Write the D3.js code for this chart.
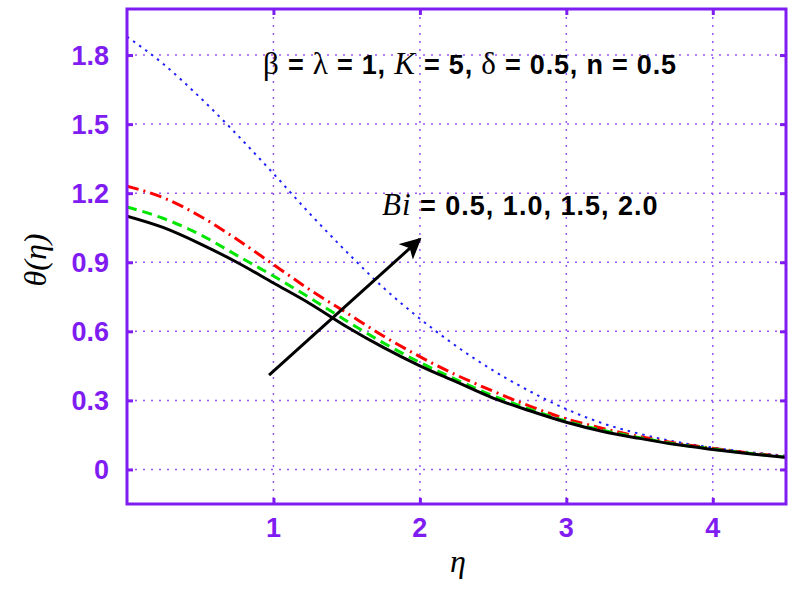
<!DOCTYPE html>
<html>
<head>
<meta charset="utf-8">
<script src="https://cdn.jsdelivr.net/npm/d3@7"></script>
<style>
  body { margin: 0; background: #fff; }
  svg { display: block; }
</style>
</head>
<body>
<svg id="chart" width="800" height="589"></svg>
<script>
let svg = d3.select("#chart");

// eta grid shared by all curves
let eta = [0, 0.25, 0.5, 0.75, 1.0, 1.25, 1.5, 1.75, 2.0, 2.25, 2.5, 2.75, 3.0, 3.25, 3.5, 3.75, 4.0, 4.25, 4.5];

let theta_black = [1.10, 1.05, 0.98, 0.90, 0.81, 0.72, 0.62, 0.53, 0.45, 0.38, 0.31, 0.255, 0.205, 0.165, 0.135, 0.108, 0.087, 0.068, 0.052];
let theta_green = [1.14, 1.09, 1.02, 0.93, 0.84, 0.745, 0.645, 0.55, 0.465, 0.39, 0.32, 0.262, 0.21, 0.17, 0.138, 0.11, 0.089, 0.07, 0.053];
let theta_red = [1.23, 1.18, 1.10, 1.00, 0.89, 0.78, 0.68, 0.58, 0.49, 0.41, 0.34, 0.275, 0.22, 0.178, 0.143, 0.114, 0.092, 0.072, 0.055];
let theta_blue = [1.88, 1.76, 1.615, 1.455, 1.285, 1.11, 0.945, 0.79, 0.655, 0.535, 0.43, 0.34, 0.262, 0.20, 0.155, 0.12, 0.095, 0.075, 0.06];

let x_ticks = [1, 2, 3, 4];
let y_ticks = [0, 0.3, 0.6, 0.9, 1.2, 1.5, 1.8];
let y_tick_labels = ["0", "0.3", "0.6", "0.9", "1.2", "1.5", "1.8"];

// arrow start/end in data units
let arrow_pts = [[0.97, 0.41], [2.0, 1.0]];

let purple = "#7f1cf2";
let plot_left = 127, plot_right = 786, plot_top = 9, plot_bottom = 504;

let x_scale = d3.scaleLinear().domain([0, 4.5]).range([plot_left, plot_right]);
let y_scale = d3.scaleLinear().domain([-0.15, 2.0]).range([plot_bottom, plot_top]);

let defs = svg.append("defs");
defs.append("clipPath")
  .attr("id", "plot-clip")
  .append("rect")
    .attr("x", plot_left).attr("y", plot_top)
    .attr("width", plot_right - plot_left).attr("height", plot_bottom - plot_top);

defs.append("marker")
  .attr("id", "arrow-head")
  .attr("viewBox", "0 0 10 10")
  .attr("refX", 9).attr("refY", 5)
  .attr("markerWidth", 7).attr("markerHeight", 7)
  .attr("markerUnits", "strokeWidth")
  .attr("orient", "auto")
  .append("path")
    .attr("d", "M0,0 L10,5 L0,10 L2.5,5 Z")
    .attr("fill", "black");

// dotted grid
let grid = svg.append("g").attr("class", "grid");
grid.selectAll("line.vgrid")
  .data(x_ticks)
  .enter().append("line")
    .attr("class", "vgrid")
    .attr("x1", (d) => x_scale(d)).attr("x2", (d) => x_scale(d))
    .attr("y1", plot_top).attr("y2", plot_bottom);
grid.selectAll("line.hgrid")
  .data(y_ticks)
  .enter().append("line")
    .attr("class", "hgrid")
    .attr("x1", plot_left).attr("x2", plot_right)
    .attr("y1", (d) => y_scale(d)).attr("y2", (d) => y_scale(d));
grid.selectAll("line")
  .attr("stroke", "#9b55f0")
  .attr("stroke-width", 1.5)
  .attr("stroke-dasharray", "2,6");

// curves
let curve_specs = [
  { values: theta_blue, color: "#1f1fff", width: 2, dash: "2.5,5" },
  { values: theta_red, color: "#ff0000", width: 3, dash: "12,5,2,5" },
  { values: theta_green, color: "#00e600", width: 3, dash: "10,6" },
  { values: theta_black, color: "#000000", width: 3, dash: null },
];

let line = d3.line()
  .x((d) => x_scale(d[0]))
  .y((d) => y_scale(d[1]))
  .curve(d3.curveMonotoneX);

let curves = svg.append("g").attr("clip-path", "url(#plot-clip)");
curve_specs.forEach((s) => {
  curves.append("path")
    .datum(eta.map((e, i) => [e, s.values[i]]))
    .attr("fill", "none")
    .attr("stroke", s.color)
    .attr("stroke-width", s.width)
    .attr("stroke-dasharray", s.dash)
    .attr("d", line);
});

// arrow
svg.append("line")
  .attr("x1", x_scale(arrow_pts[0][0])).attr("y1", y_scale(arrow_pts[0][1]))
  .attr("x2", x_scale(arrow_pts[1][0])).attr("y2", y_scale(arrow_pts[1][1]))
  .attr("stroke", "black")
  .attr("stroke-width", 3)
  .attr("marker-end", "url(#arrow-head)");

// axes with inward ticks on all sides
let tick_len = 6;
let axis_g = svg.append("g").attr("class", "axes");
let axis_pos = [
  [d3.axisBottom(x_scale), 0, plot_bottom, x_ticks],
  [d3.axisTop(x_scale), 0, plot_top, x_ticks],
  [d3.axisLeft(y_scale), plot_left, 0, y_ticks],
  [d3.axisRight(y_scale), plot_right, 0, y_ticks],
];
axis_pos.forEach(([ax, tx, ty, vals]) => {
  axis_g.append("g")
    .attr("transform", "translate(" + tx + "," + ty + ")")
    .call(ax.tickValues(vals).tickSize(-tick_len).tickFormat("").tickSizeOuter(0))
    .call((g) => g.select(".domain").remove())
    .selectAll("line")
      .attr("stroke", purple)
      .attr("stroke-width", 3);
});

axis_g.append("rect")
  .attr("x", plot_left).attr("y", plot_top)
  .attr("width", plot_right - plot_left).attr("height", plot_bottom - plot_top)
  .attr("fill", "none")
  .attr("stroke", purple)
  .attr("stroke-width", 3);

// tick labels
let labels = svg.append("g")
  .attr("font-family", "Liberation Sans, Arial, sans-serif")
  .attr("font-weight", "bold")
  .attr("font-size", 27)
  .attr("fill", purple);
labels.selectAll("text.xlab")
  .data(x_ticks)
  .enter().append("text")
    .attr("class", "xlab")
    .attr("x", (d) => x_scale(d))
    .attr("y", 537)
    .attr("text-anchor", "middle")
    .text((d) => d);
labels.selectAll("text.ylab")
  .data(y_ticks)
  .enter().append("text")
    .attr("class", "ylab")
    .attr("x", 109)
    .attr("y", (d) => y_scale(d) + 9.5)
    .attr("text-anchor", "end")
    .text((d, i) => y_tick_labels[i]);

// axis titles
svg.append("text")
  .attr("x", 458).attr("y", 572)
  .attr("text-anchor", "middle")
  .attr("font-family", "Liberation Serif, serif")
  .attr("font-style", "italic")
  .attr("font-size", 32)
  .text("η");

svg.append("text")
  .attr("transform", "translate(46,260) rotate(-90)")
  .attr("text-anchor", "middle")
  .attr("font-family", "Liberation Serif, serif")
  .attr("font-style", "italic")
  .attr("font-size", 32)
  .text("θ(η)");

// annotations
let ann1 = svg.append("text")
  .attr("x", 263).attr("y", 74)
  .attr("font-family", "Liberation Sans, Arial, sans-serif")
  .attr("font-weight", "bold")
  .attr("font-size", 27)
  .attr("letter-spacing", 0.8)
  .attr("fill", "black");
let serif = (t, italic) => ann1.append("tspan")
  .attr("font-family", "Liberation Serif, serif")
  .attr("font-weight", "normal")
  .attr("font-style", italic ? "italic" : "normal")
  .attr("font-size", 31)
  .text(t);
let sans = (t) => ann1.append("tspan").text(t);
serif("β"); sans(" = "); serif("λ"); sans(" = 1, "); serif("K", true);
sans(" = 5, "); serif("δ"); sans(" = 0.5, n = 0.5");

let ann2 = svg.append("text")
  .attr("x", 382).attr("y", 215)
  .attr("font-family", "Liberation Sans, Arial, sans-serif")
  .attr("font-weight", "bold")
  .attr("font-size", 27)
  .attr("letter-spacing", 1)
  .attr("fill", "black");
ann2.append("tspan")
  .attr("font-family", "Liberation Serif, serif")
  .attr("font-weight", "normal")
  .attr("font-style", "italic")
  .attr("font-size", 31)
  .text("Bi");
ann2.append("tspan").text(" = 0.5, 1.0, 1.5, 2.0");
</script>
</body>
</html>
